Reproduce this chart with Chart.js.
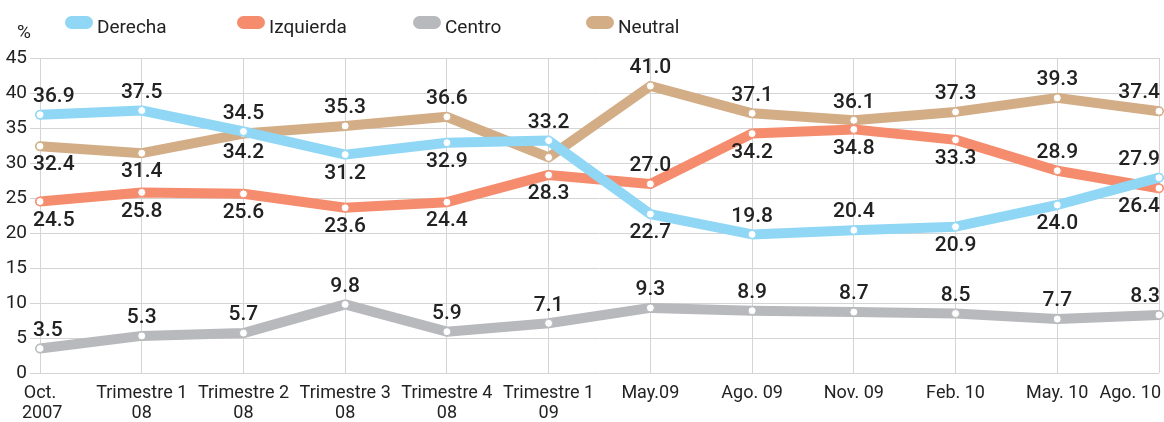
<!DOCTYPE html>
<html>
<head>
<meta charset="utf-8">
<script src="https://cdn.jsdelivr.net/npm/chart.js@4.4.1/dist/chart.umd.min.js"></script>
<style>
  html, body { margin: 0; padding: 0; background: #fff; }
  #wrap { position: relative; width: 1164px; height: 422px; overflow: hidden; font-family: Roboto, 'Liberation Sans', sans-serif; color: #222; }
  #c { position: absolute; left: 0; top: 0; }
  .lg { position: absolute; top: 14px; height: 24px; display: flex; align-items: center; font-size: 19px; color: #222; }
  .sw { width: 28px; height: 13px; border-radius: 7px; margin-right: 4px; position: relative; top: -4px; }
  #pct { position: absolute; left: 17px; top: 20px; font-size: 19px; color: #222; }
</style>
</head>
<body>
<div id="wrap">
  <canvas id="c" width="1164" height="422"></canvas>
  <div id="pct">%</div>
  <div id="legend"></div>
</div>
<script>
// ---- data ----
const categories = [
  ['Oct.', '2007'], ['Trimestre 1', '08'], ['Trimestre 2', '08'], ['Trimestre 3', '08'],
  ['Trimestre 4', '08'], ['Trimestre 1', '09'], 'May.09', 'Ago. 09', 'Nov. 09',
  'Feb. 10', 'May. 10', 'Ago. 10'
];
const seriesNames = ['Derecha', 'Izquierda', 'Centro', 'Neutral'];
const derecha   = [36.9, 37.5, 34.5, 31.2, 32.9, 33.2, 22.7, 19.8, 20.4, 20.9, 24.0, 27.9];
const izquierda = [24.5, 25.8, 25.6, 23.6, 24.4, 28.3, 27.0, 34.2, 34.8, 33.3, 28.9, 26.4];
const centro    = [3.5, 5.3, 5.7, 9.8, 5.9, 7.1, 9.3, 8.9, 8.7, 8.5, 7.7, 8.3];
const neutral   = [32.4, 31.4, 34.2, 35.3, 36.6, 30.8, 41.0, 37.1, 36.1, 37.3, 39.3, 37.4];
const yTicks    = [0, 5, 10, 15, 20, 25, 30, 35, 40, 45];

// ---- label placement (a = above, b = below, '' = none) ----
const sideDerecha   = ['a','a','a','b','b','a','b','a','a','b','b','a'];
const sideIzquierda = ['b','b','b','b','b','b','a','b','b','b','a','b'];
const sideCentro    = ['a','a','a','a','a','a','a','a','a','a','a','a'];
const sideNeutral   = ['b','b','b','a','a','','a','a','a','a','a','a'];

const colors = ['#8fd7f5', '#f58c6e', '#b8b9bc', '#d2ad86'];
const FONT = "Roboto, 'Liberation Sans', sans-serif";

// legend (HTML)
const legendX = [65, 237, 413, 586];
const lg = document.getElementById('legend');
seriesNames.forEach((n, i) => {
  const d = document.createElement('div');
  d.className = 'lg';
  d.style.left = legendX[i] + 'px';
  d.innerHTML = '<span class="sw" style="background:' + colors[i] + '"></span><span>' + n + '</span>';
  lg.appendChild(d);
});

const valueLabels = {
  id: 'valueLabels',
  afterDatasetsDraw(chart) {
    const ctx = chart.ctx;
    const sides = [sideDerecha, sideIzquierda, sideCentro, sideNeutral];
    ctx.save();
    ctx.font = '500 21px ' + FONT;
    ctx.fillStyle = '#222';
    ctx.textAlign = 'left';
    ctx.textBaseline = 'middle';
    chart.data.datasets.forEach((ds, di) => {
      const meta = chart.getDatasetMeta(di);
      meta.data.forEach((pt, i) => {
        const s = sides[di][i];
        if (!s) return;
        const txt = ds.data[i].toFixed(1);
        const w = ctx.measureText(txt).width;
        let x = pt.x - w / 2;
        if (x < 33) x = 33;
        if (x + w > 1160) x = 1160 - w;
        const y = s === 'a' ? pt.y - 18 : pt.y + 19;
        ctx.fillText(txt, x, y);
      });
    });
    ctx.restore();
  }
};

const xLabels = {
  id: 'xLabels',
  afterDraw(chart) {
    const ctx = chart.ctx;
    const sx = chart.scales.x;
    ctx.save();
    ctx.font = '18px ' + FONT;
    ctx.fillStyle = '#222';
    ctx.textAlign = 'left';
    ctx.textBaseline = 'middle';
    categories.forEach((lab, i) => {
      const lines = Array.isArray(lab) ? lab : [lab];
      const cx = sx.getPixelForTick(i);
      lines.forEach((ln, k) => {
        const w = ctx.measureText(ln).width;
        let x = cx - w / 2;
        if (x < 22) x = 22;
        if (x + w > 1161) x = 1161 - w;
        ctx.fillText(ln, x, 393 + k * 20);
      });
    });
    ctx.restore();
  }
};

const mk = (label, data, color) => ({
  label, data,
  borderColor: color,
  backgroundColor: color,
  borderWidth: 10,
  borderJoinStyle: 'round',
  borderCapStyle: 'round',
  tension: 0,
  pointRadius: 4,
  pointHoverRadius: 4,
  pointBackgroundColor: '#fff',
  pointBorderColor: color,
  pointBorderWidth: 1,
  clip: false
});

new Chart(document.getElementById('c'), {
  type: 'line',
  data: {
    labels: categories,
    datasets: [
      mk(seriesNames[0], derecha, colors[0]),
      mk(seriesNames[1], izquierda, colors[1]),
      mk(seriesNames[2], centro, colors[2]),
      mk(seriesNames[3], neutral, colors[3])
    ]
  },
  options: {
    responsive: false,
    animation: false,
    layout: { padding: { top: 58, right: 3, left: 0, bottom: 0 } },
    plugins: { legend: { display: false }, tooltip: { enabled: false } },
    scales: {
      x: {
        offset: false,
        ticks: { display: false },
        grid: { color: '#d4d4d4', lineWidth: 1, drawTicks: false },
        border: { display: false },
        afterFit: (s) => { s.height = 49; }
      },
      y: {
        min: 0, max: 45,
        afterBuildTicks: (s) => { s.ticks = yTicks.map(v => ({ value: v })); },
        ticks: { font: { size: 19, family: FONT }, color: '#222', padding: 3 },
        grid: { color: '#d4d4d4', lineWidth: 1, drawTicks: true, tickLength: 10 },
        border: { display: false },
        afterFit: (s) => { s.width = 40; }
      }
    }
  },
  plugins: [valueLabels, xLabels]
});
</script>
</body>
</html>
